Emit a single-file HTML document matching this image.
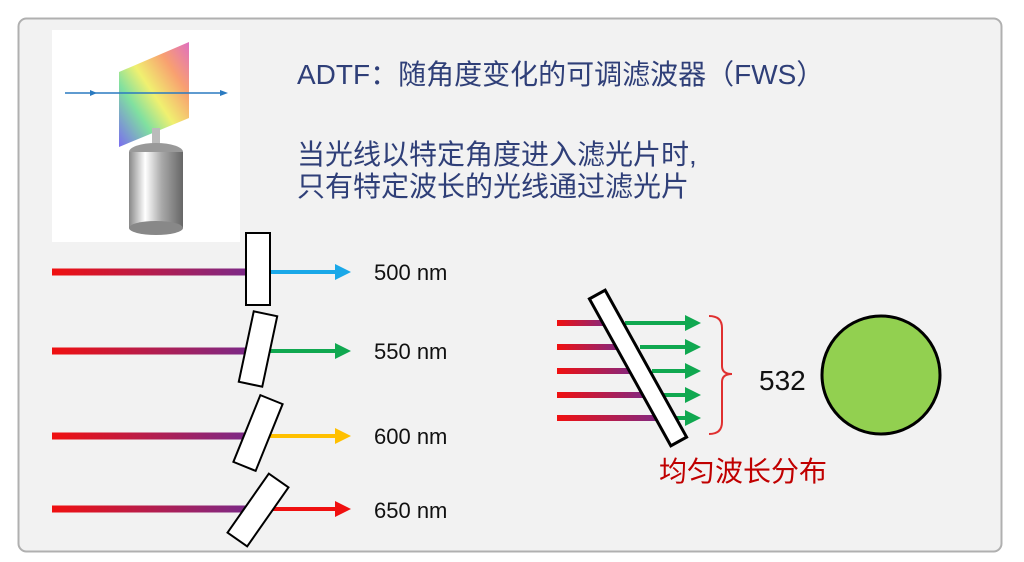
<!DOCTYPE html>
<html><head><meta charset="utf-8"><style>
html,body{margin:0;padding:0;background:#fff;}
svg{display:block;}
text{font-family:"Liberation Sans","Noto Sans CJK SC",sans-serif;}
</style></head><body>
<svg width="1024" height="562" viewBox="0 0 1024 562" xmlns="http://www.w3.org/2000/svg">
<defs>
<linearGradient id="ray" x1="0" x2="1" y1="0" y2="0"><stop offset="0" stop-color="#f01010"/><stop offset="1" stop-color="#7a2a8a"/></linearGradient>
<linearGradient id="rainbow" x1="0" y1="1" x2="1" y2="0"><stop offset="0" stop-color="#7a6cf0"/><stop offset="0.3" stop-color="#80e0a0"/><stop offset="0.5" stop-color="#f0f070"/><stop offset="0.75" stop-color="#f8a070"/><stop offset="1" stop-color="#e070c0"/></linearGradient>
<linearGradient id="cyl" x1="0" x2="1"><stop offset="0" stop-color="#888"/><stop offset="0.3" stop-color="#fff"/><stop offset="0.6" stop-color="#aaa"/><stop offset="1" stop-color="#666"/></linearGradient>
<marker id="ah" markerWidth="4" markerHeight="4" refX="2" refY="2" orient="auto" markerUnits="strokeWidth"><path d="M0,0L4,2L0,4z" fill="context-stroke"/></marker>
</defs>
<rect x="18.5" y="18.5" width="983" height="533" rx="8" fill="#f2f2f2" stroke="#b0b0b0" stroke-width="2"/>
<!-- photo -->
<rect x="52" y="30" width="188" height="212" fill="#fff"/>
<polygon points="119,72 189,42 189,118 119,147" fill="url(#rainbow)"/>
<line x1="65" y1="93" x2="225" y2="93" stroke="#2a7ac0" stroke-width="1.5"/>
<path d="M90,90L97,93L90,96z M220,90L228,93L220,96z" fill="#2a7ac0"/>
<rect x="152" y="128" width="8" height="20" fill="#bbb"/>
<ellipse cx="156" cy="152" rx="27" ry="9" fill="#999"/>
<rect x="129" y="152" width="54" height="76" fill="url(#cyl)"/>
<ellipse cx="156" cy="228" rx="27" ry="7" fill="#888"/>
<!-- text -->
<text x="297" y="84" font-size="28" fill="#2f3f78">ADTF：随角度变化的可调滤波器（FWS）</text>
<text x="297" y="164" font-size="28" fill="#2f3f78">当光线以特定角度进入滤光片时,</text>
<text x="297" y="196" font-size="28" fill="#2f3f78">只有特定波长的光线通过滤光片</text>
<!-- left rays -->
<rect x="52" y="268.5" width="198" height="7" fill="url(#ray)"/>
<rect x="52" y="347.5" width="198" height="7" fill="url(#ray)"/>
<rect x="52" y="432.5" width="198" height="7" fill="url(#ray)"/>
<rect x="52" y="505.5" width="198" height="7" fill="url(#ray)"/>
<g stroke-width="4">
<line x1="268" y1="272" x2="343" y2="272" stroke="#1aa8e8" marker-end="url(#ah)"/>
<line x1="268" y1="351" x2="343" y2="351" stroke="#10a850" marker-end="url(#ah)"/>
<line x1="268" y1="436" x2="343" y2="436" stroke="#ffc000" marker-end="url(#ah)"/>
<line x1="268" y1="509" x2="343" y2="509" stroke="#f01010" marker-end="url(#ah)"/>
</g>
<g fill="#fff" stroke="#000" stroke-width="2">
<rect x="246" y="233" width="24" height="72"/>
<rect x="246" y="313" width="24" height="72" transform="rotate(12 258 349)"/>
<rect x="246" y="397" width="24" height="72" transform="rotate(22 258 433)"/>
<rect x="246" y="474" width="24" height="72" transform="rotate(35 258 510)"/>
</g>
<g font-size="22" fill="#111">
<text x="374" y="280">500 nm</text><text x="374" y="359">550 nm</text>
<text x="374" y="444">600 nm</text><text x="374" y="518">650 nm</text>
</g>
<!-- right -->
<rect x="557" y="320" width="55" height="6" fill="url(#ray)"/>
<rect x="557" y="344" width="68" height="6" fill="url(#ray)"/>
<rect x="557" y="368" width="82" height="6" fill="url(#ray)"/>
<rect x="557" y="392" width="95" height="6" fill="url(#ray)"/>
<rect x="557" y="415" width="108" height="6" fill="url(#ray)"/>
<g stroke-width="4" stroke="#10a850">
<line x1="625" y1="323" x2="693" y2="323" marker-end="url(#ah)"/>
<line x1="640" y1="347" x2="693" y2="347" marker-end="url(#ah)"/>
<line x1="652" y1="371" x2="693" y2="371" marker-end="url(#ah)"/>
<line x1="664" y1="395" x2="693" y2="395" marker-end="url(#ah)"/>
<line x1="676" y1="418" x2="693" y2="418" marker-end="url(#ah)"/>
</g>
<rect x="629" y="284" width="18" height="168" fill="#fff" stroke="#000" stroke-width="3" transform="rotate(-29 638 368)"/>
<path d="M709,316 Q722,316 722,328 L722,366 Q722,374 732,374 Q722,374 722,382 L722,422 Q722,434 709,434" fill="none" stroke="#e03030" stroke-width="2"/>
<text x="759" y="390" font-size="28" fill="#111">532</text>
<circle cx="881" cy="375" r="59" fill="#92d050" stroke="#000" stroke-width="3"/>
<text x="659" y="481" font-size="28" fill="#c00000">均匀波长分布</text>
</svg>
</body></html>
